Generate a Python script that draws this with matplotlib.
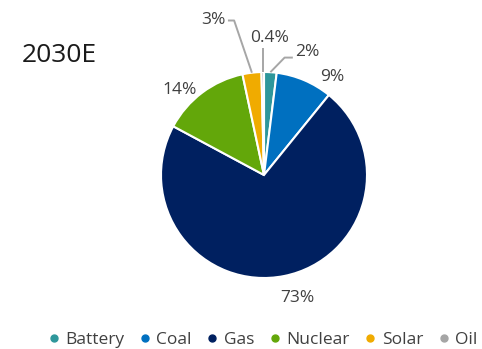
import numpy as np
import matplotlib
matplotlib.use("Agg")
import matplotlib.pyplot as plt
from matplotlib.lines import Line2D

plt.rcParams["font.family"] = ["Open Sans", "DejaVu Sans"]

labels = ["Battery", "Coal", "Gas", "Nuclear", "Solar", "Oil"]
shares = [2, 9, 73, 14, 3, 0.4]
colors = ["#2E979B", "#0070C0", "#002060", "#63A70A", "#F0AB00", "#A5A5A5"]
pct_text = ["2%", "9%", "73%", "14%", "3%", "0.4%"]

# label centres in units of pie radius; small slices get leader lines
label_pos = [(0.42, 1.19), (0.66, 0.95), (0.32, -1.19), (-0.82, 0.83),
             (-0.49, 1.50), (0.05, 1.33)]
leader = [True, False, False, False, True, True]

fig = plt.figure(figsize=(4.82, 3.49), dpi=100)
R = 103
ax = fig.add_axes([(264 - R) / 482, (349 - 175 - R) / 349, 2 * R / 482, 2 * R / 349])

wedges, _ = ax.pie(shares, colors=colors, startangle=90, counterclock=False,
                   radius=1, wedgeprops=dict(edgecolor="white", linewidth=1.5))
ax.set_xlim(-1, 1); ax.set_ylim(-1, 1); ax.axis("off")

for w, txt, (tx, ty), lead in zip(wedges, pct_text, label_pos, leader):
    mid = np.deg2rad((w.theta1 + w.theta2) / 2)
    if lead:
        ex, ey = 1.0 * np.cos(mid), 1.0 * np.sin(mid)
        if tx < -0.1:
            xs = [tx + 0.14, tx + 0.2, ex]; ys = [ty, ty, ey]
        elif tx > 0.2:
            xs = [tx - 0.14, tx - 0.22, ex]; ys = [ty - 0.05, ty - 0.05, ey]
        else:
            xs = [ex, ex]; ys = [ty - 0.1, ey]
        ax.plot(xs, ys, color="#A6A6A6", lw=1.4, clip_on=False,
                solid_capstyle="butt")
    ax.text(tx, ty, txt, ha="center", va="center", fontsize=12.5,
            color="#404040", clip_on=False)

fig.text(22 / 482, 1 - 55 / 349, "2030E", fontsize=19, color="#1a1a1a",
         ha="left", va="center")

handles = [Line2D([], [], marker="o", ls="", ms=5, color=c) for c in colors]
fig.legend(handles, labels, loc="center", bbox_to_anchor=(263 / 482, 1 - 340 / 349),
           ncol=6, frameon=False, fontsize=12.5, handlelength=0.6, handletextpad=0.35,
           columnspacing=0.9, labelcolor="#404040", borderaxespad=0)

fig.savefig("out.png", dpi=100)
